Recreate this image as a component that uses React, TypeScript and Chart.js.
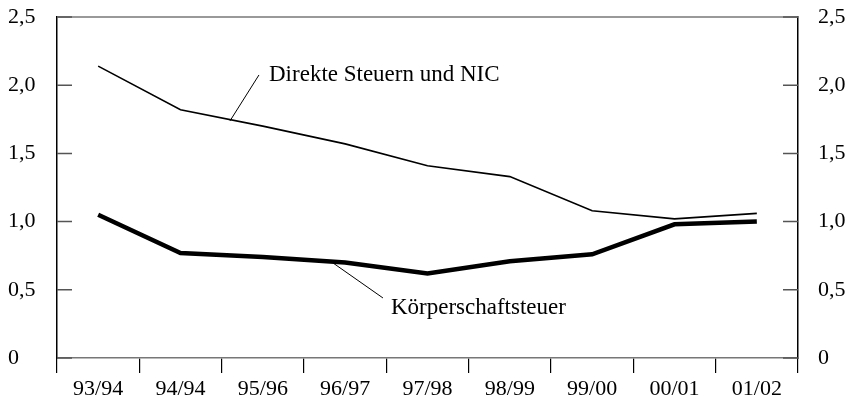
import React, { useEffect, useRef } from "react";
import { Chart, registerables } from "chart.js";

Chart.register(...registerables);

const categories = ["93/94", "94/94", "95/96", "96/97", "97/98", "98/99", "99/00", "00/01", "01/02"];
const direkteSteuern = [2.14, 1.82, 1.70, 1.57, 1.41, 1.33, 1.08, 1.02, 1.06];
const koerperschaft = [1.05, 0.77, 0.74, 0.70, 0.62, 0.71, 0.76, 0.98, 1.00];
const yTicks = [0, 0.5, 1.0, 1.5, 2.0, 2.5];
const labelDirekte = "Direkte Steuern und NIC";
const labelKoerper = "Körperschaftsteuer";

const FONT = "'Liberation Serif', 'DejaVu Serif', serif";
const FS = 22;
const FA = 23;

const fmt = (v: number) => (v === 0 ? "0" : v.toFixed(1).replace(".", ","));

const framePlugin = {
  id: "frame",
  afterDraw(chart: any) {
    const { ctx, chartArea } = chart;
    const { left, right, top } = chartArea;
    const y = chart.scales.y;
    const x = chart.scales.x;
    ctx.save();
    // top border
    ctx.strokeStyle = "#777";
    ctx.lineWidth = 1.5;
    ctx.beginPath();
    ctx.moveTo(left, top);
    ctx.lineTo(right, top);
    ctx.stroke();
    // inner ticks
    ctx.strokeStyle = "#555";
    yTicks.forEach((v) => {
      const py = y.getPixelForValue(v);
      ctx.beginPath();
      ctx.moveTo(left, py);
      ctx.lineTo(left + 15, py);
      ctx.moveTo(right, py);
      ctx.lineTo(right - 15, py);
      ctx.stroke();
    });
    // annotations
    ctx.strokeStyle = "#000";
    ctx.lineWidth = 1;
    ctx.fillStyle = "#000";
    ctx.font = `${FA}px ${FONT}`;
    ctx.textBaseline = "alphabetic";
    ctx.textAlign = "left";
    ctx.beginPath();
    ctx.moveTo(x.getPixelForValue(1.953), y.getPixelForValue(2.075));
    ctx.lineTo(x.getPixelForValue(1.601), y.getPixelForValue(1.738));
    ctx.stroke();
    ctx.fillText(labelDirekte, x.getPixelForValue(2.075), y.getPixelForValue(2.031));
    ctx.beginPath();
    ctx.moveTo(x.getPixelForValue(2.852), y.getPixelForValue(0.697));
    ctx.lineTo(x.getPixelForValue(3.459), y.getPixelForValue(0.44));
    ctx.stroke();
    ctx.fillText(labelKoerper, x.getPixelForValue(3.556), y.getPixelForValue(0.323));
    ctx.restore();
  },
};

export default function App() {
  const ref = useRef<HTMLCanvasElement | null>(null);
  useEffect(() => {
    document.body.style.margin = "0";
    if (!ref.current) return;
    const yCommon = (pos: "left" | "right", width: number, pad: number) => ({
      position: pos,
      min: 0,
      max: 2.5,
      afterBuildTicks: (s: any) => {
        s.ticks = yTicks.map((v) => ({ value: v }));
      },
      afterFit: (s: any) => {
        s.width = width;
        s.paddingTop = 0;
        s.paddingBottom = 0;
      },
      grid: { display: false, drawTicks: false },
      border: { display: true, color: "#000", width: 1.5 },
      ticks: {
        color: "#000",
        font: { family: FONT, size: FS },
        padding: pad,
        crossAlign: pos === "left" ? "far" : "near",
        callback: (v: any) => fmt(Number(v)),
      },
    });
    const chart = new Chart(ref.current, {
      type: "line",
      data: {
        labels: categories,
        datasets: [
          {
            label: labelDirekte,
            data: direkteSteuern,
            borderColor: "#000",
            borderWidth: 1.6,
            pointRadius: 0,
            tension: 0,
          },
          {
            label: labelKoerper,
            data: koerperschaft,
            borderColor: "#000",
            borderWidth: 4.5,
            pointRadius: 0,
            tension: 0,
          },
        ],
      },
      options: {
        animation: false,
        responsive: true,
        maintainAspectRatio: false,
        layout: { padding: { top: 17, right: 0, left: 8, bottom: 0 } },
        plugins: { legend: { display: false }, tooltip: { enabled: false } },
        scales: {
          x: {
            offset: true,
            grid: { offset: true, drawOnChartArea: false, tickLength: 15, color: "#000", lineWidth: 1.2 },
            border: { display: true, color: "#777", width: 1.5 },
            ticks: { color: "#000", font: { family: FONT, size: FS }, padding: 3, maxRotation: 0 },
            afterFit: (s: any) => {
              s.height = 43;
              s.paddingLeft = 0;
              s.paddingRight = 0;
            },
          },
          y: yCommon("left", 49, 8) as any,
          y2: yCommon("right", 49, 20) as any,
        },
      },
      plugins: [framePlugin],
    });
    return () => chart.destroy();
  }, []);
  return (
    <div style={{ width: 847, height: 401, position: "relative" }}>
      <canvas ref={ref} />
    </div>
  );
}
